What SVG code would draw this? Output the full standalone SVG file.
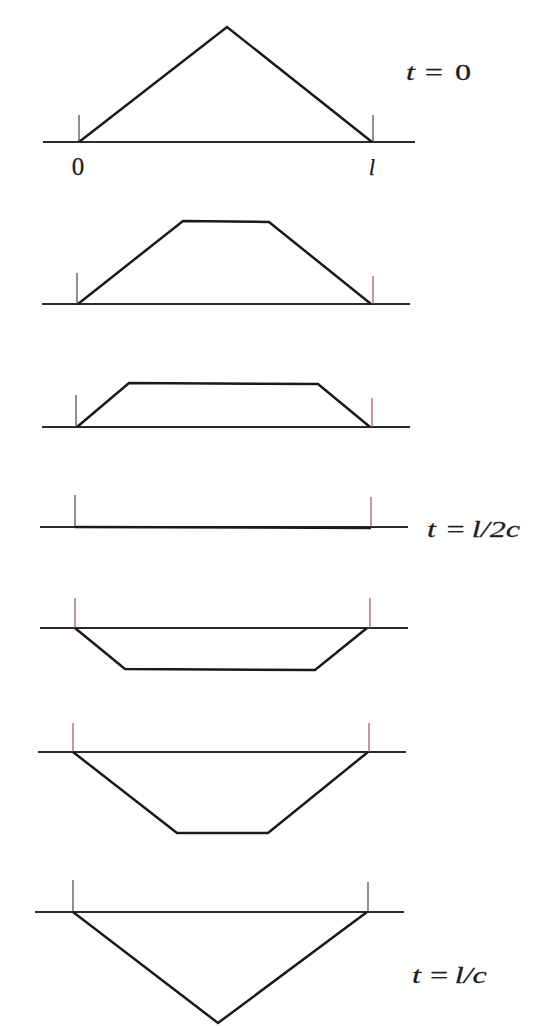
<svg xmlns="http://www.w3.org/2000/svg" width="543" height="1026" viewBox="0 0 543 1026">
<style>
.axis{stroke:#2a2a2a;stroke-width:1.8;fill:none}
.shape{stroke:#1a1a1a;stroke-width:2.5;fill:none;stroke-linejoin:miter}
.tick{stroke:#444;stroke-width:1.2}
.tickp{stroke:#9a5070;stroke-width:1.2}
.lbl{font-style:italic;font-size:23px;fill:#1e1e1e;stroke:#1e1e1e;stroke-width:0.25}
.num{font-size:25px;fill:#1e1e1e;stroke:#1e1e1e;stroke-width:0.25}
</style>
<rect width="543" height="1026" fill="#fff"/>
<g id="panel1">
<line class="axis" x1="43" y1="142" x2="415" y2="142"/>
<line class="tick" x1="79" y1="115" x2="79" y2="142"/>
<line class="tick" x1="373" y1="115" x2="373" y2="142"/>
<polyline class="shape" points="79,142 227,27 372,142"/>
<text class="num" font-family="Liberation Serif, Times New Roman, serif" x="78" y="175" text-anchor="middle">0</text>
<text class="lbl" font-family="Liberation Serif, Times New Roman, serif" x="372" y="175" text-anchor="middle" font-size="25">l</text>
<text class="lbl" font-family="Liberation Serif, Times New Roman, serif" transform="translate(406,80) scale(1.4,1)"><tspan x="0">t</tspan><tspan x="12">=</tspan><tspan x="35" font-style="normal">0</tspan></text>
</g>
<g id="panel2">
<line class="axis" x1="42" y1="304" x2="410" y2="304"/>
<line class="tick" x1="77" y1="273" x2="77" y2="304"/>
<line class="tickp" x1="373" y1="276" x2="373" y2="304"/>
<polyline class="shape" points="78,304 183,221 269,222 371,304"/>
</g>
<g id="panel3">
<line class="axis" x1="42" y1="427" x2="410" y2="427"/>
<line class="tick" x1="76" y1="395" x2="76" y2="427"/>
<line class="tickp" x1="372" y1="398" x2="372" y2="427"/>
<polyline class="shape" points="77,427 129,383 318,384 370,427"/>
</g>
<g id="panel4">
<line class="axis" x1="40" y1="527" x2="408" y2="527"/>
<line class="tick" x1="75" y1="495" x2="75" y2="527"/>
<line class="tickp" x1="371" y1="497" x2="371" y2="527"/>
<line class="shape" x1="75" y1="527" x2="371" y2="528"/>
<text class="lbl" font-family="Liberation Serif, Times New Roman, serif" transform="translate(427,537) scale(1.4,1)"><tspan x="0">t</tspan><tspan x="12.5">=</tspan><tspan x="32">l/2c</tspan></text>
</g>
<g id="panel5">
<line class="axis" x1="40" y1="628" x2="408" y2="628"/>
<line class="tickp" x1="75" y1="598" x2="75" y2="628"/>
<line class="tickp" x1="370" y1="598" x2="370" y2="628"/>
<polyline class="shape" points="75,628 125,669 315,670 367,628"/>
</g>
<g id="panel6">
<line class="axis" x1="38" y1="752" x2="406" y2="752"/>
<line class="tickp" x1="73" y1="723" x2="73" y2="752"/>
<line class="tickp" x1="369" y1="723" x2="369" y2="752"/>
<polyline class="shape" points="73,752 177,833 268,833 368,752"/>
</g>
<g id="panel7">
<line class="axis" x1="35" y1="912" x2="404" y2="912"/>
<line class="tick" x1="73" y1="880" x2="73" y2="912"/>
<line class="tick" x1="368" y1="882" x2="368" y2="912"/>
<polyline class="shape" points="73,912 218,1023 367,912"/>
<text class="lbl" font-family="Liberation Serif, Times New Roman, serif" transform="translate(412,983) scale(1.4,1)"><tspan x="0">t</tspan><tspan x="11.4">=</tspan><tspan x="30.5">l/c</tspan></text>
</g>
</svg>
